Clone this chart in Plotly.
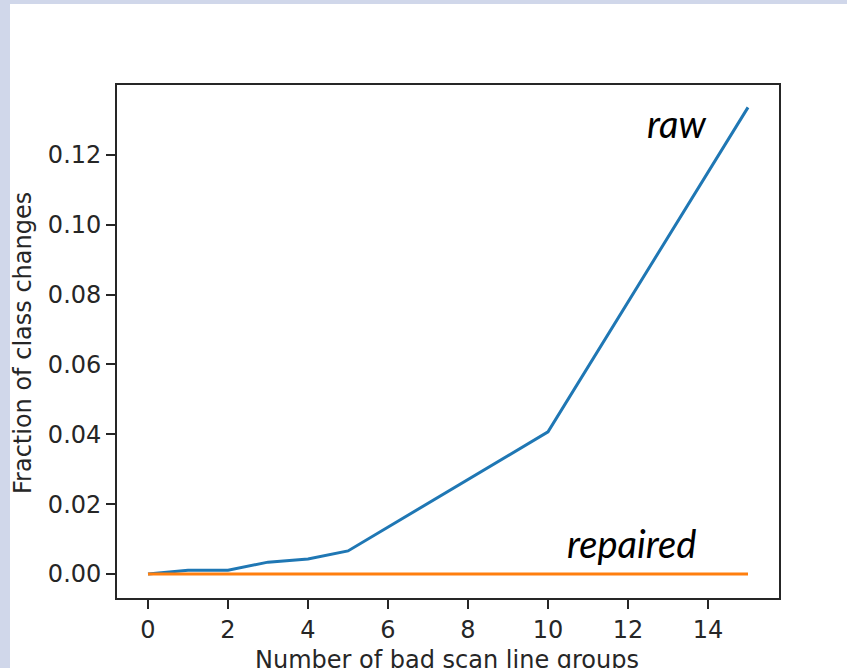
import plotly.graph_objects as go

# Data
x_raw = [0, 1, 2, 3, 4, 5, 10, 15]
y_raw = [0.0, 0.0011, 0.0011, 0.0034, 0.0043, 0.0066, 0.0407, 0.1336]
x_rep = [0, 1, 2, 3, 4, 5, 10, 15]
y_rep = [0.0, 0.0, 0.0, 0.0, 0.0, 0.0, 0.0, 0.0]
x_ticks = [0, 2, 4, 6, 8, 10, 12, 14]
y_ticks = [0.00, 0.02, 0.04, 0.06, 0.08, 0.10, 0.12]

W, H = 847, 668
L, R, T, B = 117, 68, 85, 70
pw, ph = W - L - R, H - T - B

def px(xp):
    return (xp - L) / pw

def py(yp):
    return (H - B - yp) / ph

fig = go.Figure()
fig.add_trace(go.Scatter(x=x_raw, y=y_raw, mode="lines",
                         line=dict(color="#1f77b4", width=3), showlegend=False))
fig.add_trace(go.Scatter(x=x_rep, y=y_rep, mode="lines",
                         line=dict(color="#ff7f0e", width=3), showlegend=False))

tickfont = dict(family="DejaVu Sans", size=24, color="#262626")
axis_common = dict(showline=True, mirror=True, linecolor="#262626", linewidth=1.8,
                   ticks="outside", ticklen=9, tickwidth=1.8, tickcolor="#262626",
                   showgrid=False, zeroline=False, tickfont=tickfont)

fig.update_layout(
    width=W, height=H,
    margin=dict(l=L, r=R, t=T, b=B),
    paper_bgcolor="white", plot_bgcolor="white",
    xaxis=dict(range=[-0.775, 15.775], tickvals=x_ticks,
               ticktext=[str(v) for v in x_ticks], **axis_common),
    yaxis=dict(range=[-0.00687, 0.1400], tickvals=y_ticks,
               ticktext=["%.2f" % v for v in y_ticks], **axis_common),
    shapes=[
        dict(type="rect", xref="paper", yref="paper", layer="below",
             x0=px(0), x1=px(10), y0=py(H), y1=py(0),
             fillcolor="#d0d7ea", line=dict(width=0)),
        dict(type="rect", xref="paper", yref="paper", layer="below",
             x0=px(0), x1=px(W), y0=py(4), y1=py(0),
             fillcolor="#d0d7ea", line=dict(width=0)),
    ],
    annotations=[
        dict(text="raw", x=13.2, y=0.129, xref="x", yref="y", showarrow=False,
             font=dict(family="Lato", size=38, color="black", style="italic"),
             xanchor="center", yanchor="middle"),
        dict(text="repaired", x=12.08, y=0.0089, xref="x", yref="y", showarrow=False,
             font=dict(family="Lato", size=38, color="black", style="italic"),
             xanchor="center", yanchor="middle"),
        dict(text="Fraction of class changes", x=px(23), y=py(343), xref="paper", yref="paper",
             showarrow=False, textangle=-90, xanchor="center", yanchor="middle",
             font=dict(family="DejaVu Sans", size=24, color="#262626")),
        dict(text="Number of bad scan line groups", x=px(447), y=py(660), xref="paper", yref="paper",
             showarrow=False, xanchor="center", yanchor="middle",
             font=dict(family="DejaVu Sans", size=24, color="#262626")),
    ],
)

fig.write_html("out.html", config={"displayModeBar": False},
               post_script="document.body.style.margin='0';document.body.style.overflow='hidden';")
